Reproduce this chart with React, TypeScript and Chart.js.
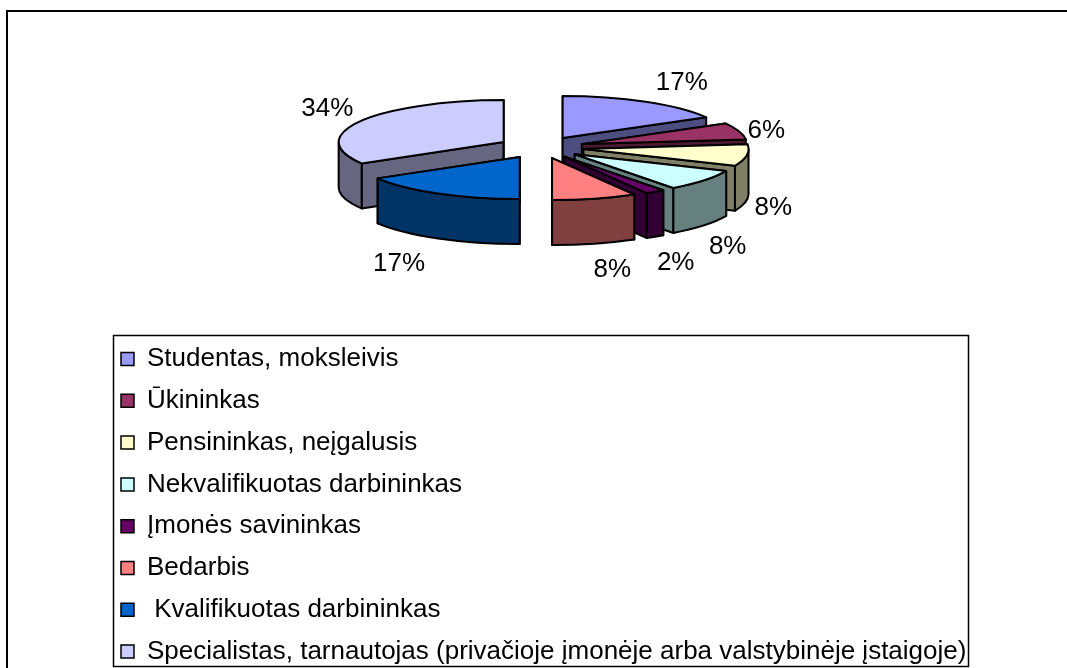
import React, { useEffect, useRef } from "react";
import { Chart, registerables } from "chart.js";

Chart.register(...registerables);

const categories = [
  "Studentas, moksleivis",
  "Ūkininkas",
  "Pensininkas, neįgalusis",
  "Nekvalifikuotas darbininkas",
  "Įmonės savininkas",
  "Bedarbis",
  " Kvalifikuotas darbininkas",
  "Specialistas, tarnautojas (privačioje įmonėje arba valstybinėje įstaigoje)",
];
const shares = [16.8, 6.4, 8.3, 8.3, 1.9, 8.3, 16.5, 33.5];
const topColors = ["#9999FF", "#993366", "#FFFFCC", "#CCFFFF", "#660066", "#FF8080", "#0066CC", "#CCCCFF"];
const wallColors = ["#4D4D80", "#4D1A33", "#808066", "#668080", "#330033", "#804040", "#003366", "#666680"];
const labelNudges = [
  [21, 0],
  [-1, 6],
  [-3, 16],
  [0, 8],
  [4, 8],
  [10, 5],
  [-24, 6],
  [-7, -2],
];

const FONT = "'Liberation Sans', Arial, sans-serif";
const PIE = { x: 541, y: 147.5, radius: 165, explode: 43, flatten: 0.2545, depth: 45 };

const pie3d = {
  id: "pie3d",
  beforeDraw(chart: any) {
    const ctx = chart.ctx;
    ctx.save();
    ctx.fillStyle = "#fff";
    ctx.fillRect(0, 0, chart.width, chart.height);
    ctx.strokeStyle = "#000";
    ctx.lineWidth = 2;
    ctx.beginPath();
    ctx.moveTo(7, chart.height + 5);
    ctx.lineTo(7, 11);
    ctx.lineTo(chart.width + 5, 11);
    ctx.stroke();
    ctx.lineWidth = 1.5;
    ctx.strokeRect(113.5, 335.5, 855, 331);
    ctx.restore();
  },
  afterLayout(chart: any) {
    const l = chart.legend;
    l.left = 105.2;
    l.right = 1000;
    l.top = 330.2;
    l.bottom = 1000;
  },
  beforeDatasetsDraw(chart: any) {
    const ctx = chart.ctx;
    const arcs = chart.getDatasetMeta(0).data;
    const geo = arcs.map((el: any, i: number) => {
      const mid = (el.startAngle + el.endAngle) / 2;
      const ax = PIE.x + Math.cos(mid) * PIE.explode;
      const ay = PIE.y + Math.sin(mid) * PIE.explode * PIE.flatten;
      const R = el.outerRadius;
      return { el, i, mid, ax, ay, R, sortY: ay + Math.sin(mid) * R * PIE.flatten };
    });
    const order = [...geo].sort((a, b) => a.sortY - b.sortY);
    ctx.save();
    ctx.lineJoin = "round";
    ctx.lineWidth = 2;
    ctx.strokeStyle = "#000";
    const pt = (g: any, a: number) => [g.ax + Math.cos(a) * g.R, g.ay + Math.sin(a) * g.R * PIE.flatten];
    for (const g of order) {
      const { el, i, ax, ay, R } = g;
      const d = PIE.depth;
      ctx.fillStyle = wallColors[i];
      for (const a of [el.startAngle, el.endAngle]) {
        const [px, py] = pt(g, a);
        ctx.beginPath();
        ctx.moveTo(ax, ay);
        ctx.lineTo(px, py);
        ctx.lineTo(px, py + d);
        ctx.lineTo(ax, ay + d);
        ctx.closePath();
        ctx.fill();
        ctx.stroke();
      }
      const a1 = Math.max(el.startAngle, 0);
      const a2 = Math.min(el.endAngle, Math.PI);
      if (a2 > a1) {
        ctx.beginPath();
        ctx.ellipse(ax, ay, R, R * PIE.flatten, 0, a1, a2);
        ctx.ellipse(ax, ay + d, R, R * PIE.flatten, 0, a2, a1, true);
        ctx.closePath();
        ctx.fill();
        ctx.stroke();
      }
      ctx.save();
      ctx.translate(ax, ay);
      ctx.scale(1, PIE.flatten);
      ctx.translate(-el.x, -el.y);
      el.draw(ctx);
      ctx.restore();
      ctx.beginPath();
      ctx.moveTo(ax, ay);
      ctx.ellipse(ax, ay, R, R * PIE.flatten, 0, el.startAngle, el.endAngle);
      ctx.closePath();
      ctx.stroke();
    }
    ctx.fillStyle = "#000";
    ctx.font = `26px ${FONT}`;
    ctx.textAlign = "center";
    ctx.textBaseline = "middle";
    geo.forEach((g: any) => {
      const c = Math.cos(g.mid);
      const s = Math.sin(g.mid);
      const x = g.ax + c * (g.R + 30);
      const y = g.ay + s * (g.R * PIE.flatten + 22) + (s > 0 ? PIE.depth * Math.min(1, s + 0.6) : 0);
      ctx.fillText(`${Math.round(shares[g.i])}%`, x + labelNudges[g.i][0], y + labelNudges[g.i][1]);
    });
    ctx.restore();
    return false;
  },
};

export default function App() {
  const ref = useRef<HTMLCanvasElement>(null);
  useEffect(() => {
    document.body.style.margin = "0";
    const chart = new Chart(ref.current!, {
      type: "pie",
      data: {
        labels: categories,
        datasets: [
          {
            data: shares,
            backgroundColor: topColors,
            borderWidth: 0,
          },
        ],
      },
      options: {
        responsive: false,
        animation: false,
        radius: PIE.radius,
        layout: { padding: 0 },
        plugins: {
          tooltip: { enabled: false },
          title: { display: false },
          legend: {
            display: true,
            position: "chartArea",
            align: "start",
            labels: {
              boxWidth: 13,
              boxHeight: 13,
              padding: 15.8,
              color: "#000",
              font: { family: FONT, size: 26, lineHeight: 1 },
              generateLabels(c: any) {
                return categories.map((text, i) => ({
                  text,
                  index: i,
                  fillStyle: topColors[i],
                  strokeStyle: "#000",
                  lineWidth: 1.5,
                  hidden: false,
                }));
              },
            },
          },
        },
      } as any,
      plugins: [pie3d as any],
    });
    return () => chart.destroy();
  }, []);
  return <canvas ref={ref} width={1067} height={668} style={{ display: "block" }} />;
}
